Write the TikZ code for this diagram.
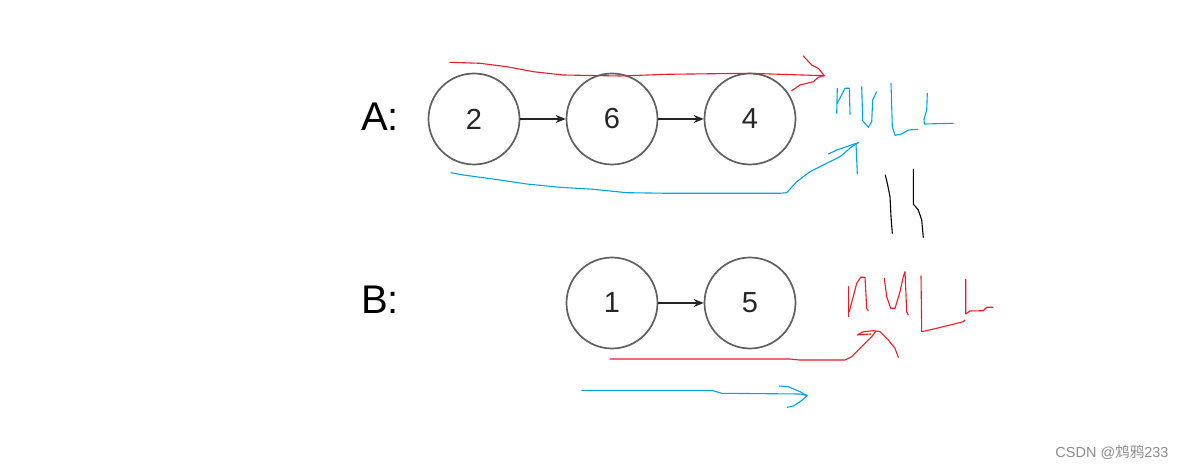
\documentclass[tikz,border=0pt]{standalone}
\usepackage{fontspec}
\setmainfont{Liberation Sans}
\newfontfamily\cjkfont{Noto Sans CJK SC}
\usetikzlibrary{arrows.meta}
\definecolor{pred}{HTML}{ED1C24}
\definecolor{pblue}{HTML}{00A2E8}
\definecolor{ringgray}{HTML}{606060}
\begin{document}
\begin{tikzpicture}[x=1pt,y=-1pt,
  listnode/.style={circle,draw=ringgray,line width=1.7pt,minimum size=91pt,inner sep=0pt,font=\fontsize{29}{29}\selectfont,text=black!85},
  link/.style={-{Stealth[length=10pt,width=8pt]},line width=1.1pt,draw=black!85},
  rowlabel/.style={font=\fontsize{40}{40}\selectfont,anchor=center},
  redink/.style={draw=pred,line width=1.1pt,line join=round,line cap=round},
  blueink/.style={draw=pblue,line width=1.1pt,line join=round,line cap=round},
  blackink/.style={draw=black,line width=1.1pt,line join=round,line cap=round}]
\useasboundingbox (0,0) rectangle (1186,470);
% labels
\node[rowlabel] (la) at (380,117) {A:};
\node[rowlabel] (lb) at (380,300) {B:};
% list A
\node[listnode] (a1) at (474,119) {2};
\node[listnode] (a2) at (612,119) {6};
\node[listnode] (a3) at (750,119) {4};
\draw[link] (a1) -- (a2);
\draw[link] (a2) -- (a3);
% list B
\node[listnode] (b1) at (612,303) {1};
\node[listnode] (b2) at (750,303) {5};
\draw[link] (b1) -- (b2);
% red arrow over A
\draw[redink] (450,62.3) -- (480,63.3) -- (506.7,66.7) -- (533.3,71.7) -- (563.3,75) -- (620,76) -- (666.7,74.3) -- (748.3,73.3) -- (824.3,75.7);
\draw[redink] (803.3,56) -- (811.7,65) -- (818.3,68.3) -- (824.3,75.7) -- (818.3,77.3) -- (813.3,81.7) -- (800,85) -- (791.7,90.7);
% blue arrow under A
\draw[blueink] (451,172.7) -- (463.3,175) -- (500,180) -- (526.7,184) -- (560,187.3) -- (593.3,189.3) -- (626.7,192.7) -- (670,193.3) -- (780,193.3) -- (786.7,192.7) -- (796.7,181.7) -- (810,171.7) -- (823.3,165) -- (840,156.7) -- (851.7,146.7) -- (858.3,142.7);
\draw[blueink] (828.3,154) -- (836.7,150) -- (858.3,142.7);
\draw[blueink] (856,143.3) -- (857.3,174);
% blue NULL
\draw[blueink] (837.3,88.3) -- (836.7,113.3);
\draw[blueink] (837.3,103.3) -- (845,88.3) -- (849.3,88.3) -- (850,114.3);
\draw[blueink] (861.7,86.7) -- (862.7,120.7) -- (868.3,127.3) -- (871.7,121.7) -- (872.7,100) -- (876.7,91.7);
\draw[blueink] (891,83.3) -- (892.3,126.7) -- (895,135.3) -- (901.7,134) -- (908.3,130) -- (917.7,129.3);
\draw[blueink] (927.3,93.3) -- (926.7,110) -- (924,119.3) -- (924.3,124) -- (953.3,123.3);
% black equals sign
\draw[blackink] (885.3,175) -- (887.3,183.3) -- (890,196.7) -- (891,216.7) -- (892.3,233.3);
\draw[blackink] (913.3,169.3) -- (913.3,204) -- (918.3,210) -- (921.7,220) -- (923.3,237.3);
% red NULL
\draw[redink] (848.3,286.7) -- (848.3,316.7);
\draw[redink] (849.3,311.7) -- (856.7,283.3) -- (860.7,277.3) -- (865,277.3) -- (866.7,308.3) -- (868.3,310.7);
\draw[redink] (884.3,278.3) -- (886.7,296.7) -- (890.7,308.3) -- (895,308.3) -- (900,291.7) -- (903.3,276.7) -- (905,271.7) -- (906.7,311.7) -- (908.3,315);
\draw[redink] (921,276) -- (921.7,331.7) -- (936.7,328.3) -- (950,325) -- (963.3,321.7) -- (965,320);
\draw[redink] (965.7,279.3) -- (965.7,314) -- (970,311) -- (983.3,310.7) -- (986.7,307.3) -- (992.7,307.3);
% red arrow under B
\draw[redink] (610,359) -- (790,359) -- (799.3,360) -- (845,360) -- (851.7,356.7) -- (863.3,345) -- (871.7,336.7) -- (876,331);
\draw[redink] (871,334) -- (863.3,334.5) -- (857.3,335) -- (863.3,331.7) -- (873.3,330.7) -- (880,331.7) -- (888.3,340) -- (895,348.3) -- (898.3,357.3);
% blue arrow under B
\draw[blueink] (581.7,390.3) -- (711.7,390.3) -- (721.7,393.3) -- (800,394) -- (807.3,395.7);
\draw[blueink] (779.3,386) -- (788.3,386.7) -- (800,391.7) -- (807.3,395.7) -- (800,401.7) -- (793.3,406) -- (787.3,407.3);
% watermark
\node[font=\fontsize{14.5}{14.5}\selectfont,text=black!45,anchor=east] (wm) at (1172,452) {CSDN @{\cjkfont 鸩鸦}233};
\end{tikzpicture}
\end{document}
